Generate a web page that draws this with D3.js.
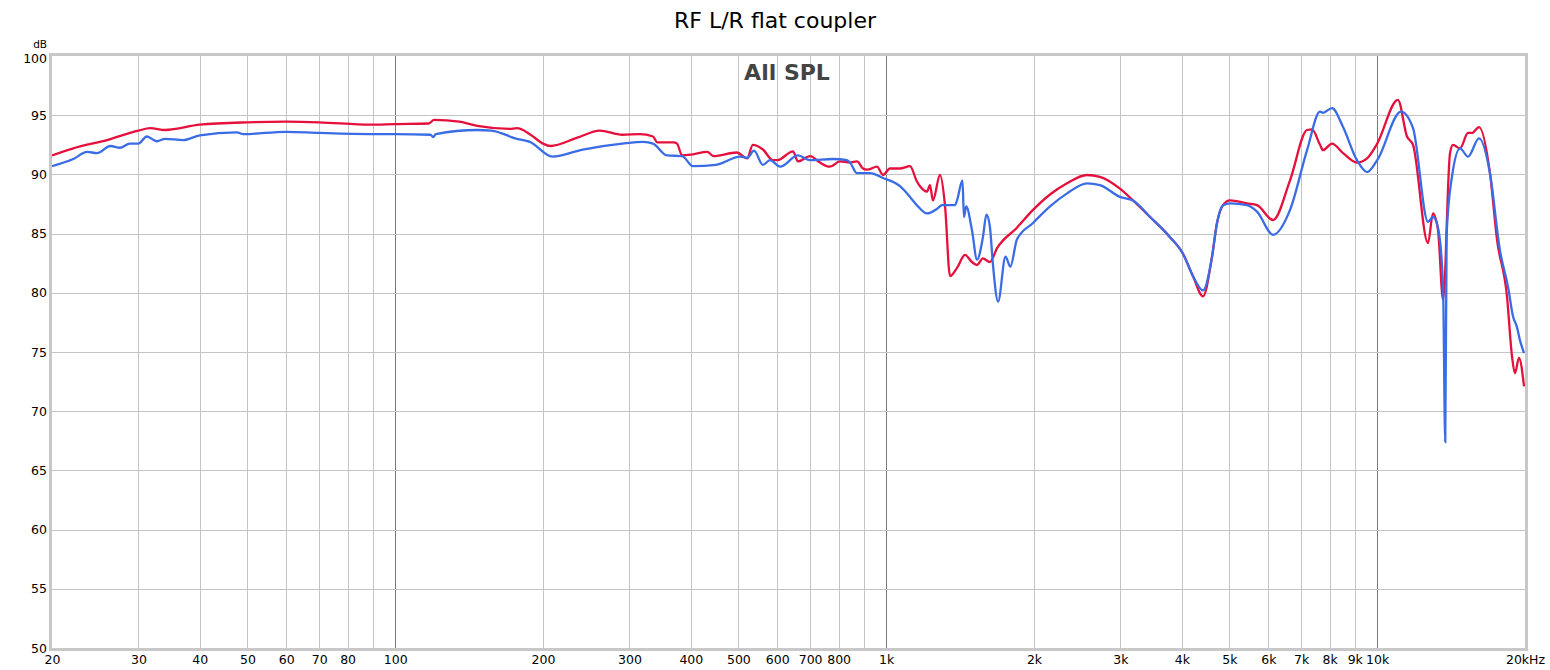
<!DOCTYPE html>
<html>
<head>
<meta charset="utf-8">
<script src="https://cdn.jsdelivr.net/npm/d3@7"></script>
<style>
  body { margin: 0; background: #fff; }
  svg { font-family: "DejaVu Sans", sans-serif; }
</style>
</head>
<body>
<script>
// tick values / labels
var xTicks = [20, 30, 40, 50, 60, 70, 80, 90, 100, 200, 300, 400, 500, 600, 700, 800, 900,
              1000, 2000, 3000, 4000, 5000, 6000, 7000, 8000, 9000, 10000, 20000];
var xLabels = ["20", "30", "40", "50", "60", "70", "80", "", "100", "200", "300", "400", "500", "600", "700", "800", "",
               "1k", "2k", "3k", "4k", "5k", "6k", "7k", "8k", "9k", "10k", "20kHz"];
var yTicks = [50, 55, 60, 65, 70, 75, 80, 85, 90, 95, 100];

// red trace
var redHz = [20, 22.1, 25.9, 30, 31.7, 34, 40, 50, 60, 70, 89, 100, 117, 120, 135, 147, 171, 177, 188, 200, 207, 235, 261,
  290, 315, 335, 342, 369, 375, 384, 404, 432, 445, 496, 521, 535, 561, 588, 600, 646, 661, 700, 733, 768, 805, 844, 872,
  897, 914, 958, 985, 1018, 1067, 1118, 1155, 1172, 1211, 1228, 1245, 1287, 1318, 1349, 1394, 1447, 1495, 1531, 1574, 1626,
  1681, 1846, 1991, 2156, 2335, 2564, 2725, 2993, 3182, 3447, 3784, 4022, 4216, 4418, 4609, 4718, 4853, 5014, 5430, 5692,
  6137, 6645, 7197, 7367, 7648, 7756, 8091, 8520, 9096, 9534, 10000, 11020, 11500, 11830, 12690, 12990, 13300, 13620,
  14070, 14270, 14750, 15310, 15600, 16120, 16970, 17540, 18380, 18820, 19080, 19440, 19910];
var redDb = [91.6, 92.2, 92.9, 93.7, 93.9, 93.75, 94.2, 94.4, 94.45, 94.4, 94.2, 94.25, 94.3, 94.6, 94.45, 94.1, 93.85, 93.9, 93.4, 92.6, 92.4, 93.1, 93.7,
  93.35, 93.4, 93.2, 92.7, 92.7, 92.6, 91.6, 91.7, 91.9, 91.55, 91.85, 91.35, 92.5, 92.1, 91.2, 91.2, 91.95, 91.1, 91.55, 91.0, 90.65, 91.1, 91.0, 91.1,
  90.5, 90.4, 90.65, 89.95, 90.5, 90.5, 90.7, 89.4, 89.0, 88.55, 89.1, 87.8, 89.95, 87.3, 81.4, 82.1, 83.2, 82.6, 82.35, 82.9, 82.6,
  83.75, 85.5, 87.0, 88.3, 89.25, 89.95, 89.8, 88.8, 87.8, 86.4, 84.7, 83.3, 81.4, 79.7, 83.05, 85.9, 87.4, 87.8, 87.55, 87.4,
  86.15, 89.5, 93.75, 93.8, 92.5, 92.05, 92.6, 91.8, 91.0, 91.35, 92.6, 96.3, 93.2, 92.5, 84.2, 86.7, 85.3, 79.4,
  91.8, 92.5, 92.2, 93.5, 93.5, 94.0, 90.1, 84.5, 79.7, 74.6, 73.2, 74.5, 72.1];

// blue trace
var blueHz = [20, 22.1, 23.6, 24.7, 26.3, 27.5, 28.8, 30, 31.2, 32.7, 34, 37, 40, 47.6, 49, 60, 70, 89, 100, 118, 119.5, 121,
  147, 157, 177, 188, 209, 241, 290, 320, 335, 358, 384, 404, 450, 504, 521, 538, 561, 580, 608, 661, 700, 779, 832, 844,
  872, 927, 985, 1067, 1118, 1155, 1211, 1270, 1300, 1380, 1394, 1430, 1440, 1455, 1495, 1531, 1574, 1600, 1626, 1650, 1690,
  1750, 1790, 1846, 1991, 2156, 2335, 2564, 2725, 2993, 3182, 3447, 3784, 4022, 4216, 4418, 4609, 4718, 4853, 5014, 5430,
  5692, 6137, 6645, 7197, 7648, 7756, 8091, 8520, 9096, 9534, 10000, 11180, 11830, 12690, 12990, 13300, 13620, 13760, 13850,
  14200, 14750, 15310, 16120, 16970, 17780, 18470, 18910, 19260, 19530, 19910];
var blueDb = [90.7, 91.3, 91.9, 91.8, 92.4, 92.25, 92.6, 92.6, 93.2, 92.8, 93.0, 92.9, 93.3, 93.55, 93.4, 93.6, 93.5, 93.4, 93.4, 93.35, 93.15, 93.4,
  93.75, 93.7, 93.0, 92.75, 91.5, 92.1, 92.6, 92.75, 92.6, 91.6, 91.55, 90.7, 90.8, 91.5, 91.4, 92.0, 90.8, 91.2, 90.65, 91.6, 91.2, 91.3, 91.2, 91.0,
  90.1, 90.1, 89.7, 89.0, 88.1, 87.4, 86.7, 87.1, 87.4, 87.4, 87.8, 89.5, 86.4, 87.3, 85.3, 82.8, 84.7, 86.6, 85.6, 82.35, 79.25,
  83.05, 82.2, 84.5, 85.9, 87.3, 88.4, 89.25, 89.1, 88.1, 87.8, 86.4, 84.7, 83.3, 81.4, 80.2, 83.05, 85.9, 87.4, 87.55, 87.4,
  86.85, 84.9, 87.0, 92.05, 95.3, 95.2, 95.6, 94.0, 91.2, 90.2, 91.2, 95.3, 93.9, 86.0, 86.4, 85.5, 80.5, 67.4, 85.0,
  89.8, 92.2, 91.5, 93.05, 90.1, 83.6, 80.5, 78.0, 77.1, 76.0, 74.9];

var width = 1550, height = 670;
var plotLeft = 52, plotRight = 1525, plotTop = 56, plotBottom = 648;

var svg = d3.select("body").append("svg")
    .attr("width", width)
    .attr("height", height);

var x = d3.scaleLog().domain([20, 20000]).range([plotLeft, plotRight]);
var y = d3.scaleLinear().domain([50, 100]).range([plotBottom, plotTop]);

// grid
var decades = [100, 1000, 10000];
svg.append("g").selectAll("line")
    .data(xTicks.filter(function(d) { return d > 20 && d < 20000; }))
  .enter().append("line")
    .attr("x1", function(d) { return Math.round(x(d)) + 0.5; })
    .attr("x2", function(d) { return Math.round(x(d)) + 0.5; })
    .attr("y1", plotTop)
    .attr("y2", plotBottom)
    .attr("stroke", function(d) { return decades.indexOf(d) >= 0 ? "#7a7a7a" : "#c4c4c4"; })
    .attr("stroke-width", 1);

svg.append("g").selectAll("line")
    .data(yTicks.filter(function(d) { return d > 50 && d < 100; }))
  .enter().append("line")
    .attr("x1", plotLeft)
    .attr("x2", plotRight)
    .attr("y1", function(d) { return Math.round(y(d)) + 0.5; })
    .attr("y2", function(d) { return Math.round(y(d)) + 0.5; })
    .attr("stroke", "#c4c4c4")
    .attr("stroke-width", 1);

// axes
var xAxis = svg.append("g")
    .attr("transform", "translate(0," + (plotBottom + 4) + ")")
    .call(d3.axisBottom(x).tickValues(xTicks).tickSize(0)
      .tickFormat(function(d, i) { return xLabels[i]; }));
xAxis.select(".domain").remove();
xAxis.selectAll("text")
    .attr("font-family", "DejaVu Sans, sans-serif")
    .attr("font-size", 12.5)
    .attr("fill", "#000");

var yAxis = svg.append("g")
    .attr("transform", "translate(" + (plotLeft - 5) + ",0)")
    .call(d3.axisLeft(y).tickValues(yTicks).tickSize(0));
yAxis.select(".domain").remove();
yAxis.selectAll("text")
    .attr("font-family", "DejaVu Sans, sans-serif")
    .attr("font-size", 12.5)
    .attr("fill", "#000")
    .attr("x", 0);
// nudge the top label down a little so "dB" sits clear above it
yAxis.selectAll(".tick").filter(function(d) { return d === 100; })
  .select("text").attr("dy", "0.5em");

svg.append("text")
    .attr("x", 47)
    .attr("y", 48)
    .attr("text-anchor", "end")
    .attr("font-size", 10.5)
    .attr("fill", "#000")
    .text("dB");

// titles
svg.append("text")
    .attr("x", 775)
    .attr("y", 28)
    .attr("text-anchor", "middle")
    .attr("font-size", 22)
    .attr("fill", "#000")
    .text("RF L/R flat coupler");

svg.append("text")
    .attr("x", 787)
    .attr("y", 80)
    .attr("text-anchor", "middle")
    .attr("font-size", 22)
    .attr("font-weight", "bold")
    .attr("fill", "#444")
    .text("All SPL");

// traces
svg.append("clipPath").attr("id", "plot")
  .append("rect")
    .attr("x", plotLeft).attr("y", plotTop)
    .attr("width", plotRight - plotLeft).attr("height", plotBottom - plotTop);

var line = d3.line()
    .x(function(d) { return x(d[0]); })
    .y(function(d) { return y(d[1]); })
    .curve(d3.curveMonotoneX);

svg.append("path")
    .datum(d3.zip(redHz, redDb))
    .attr("clip-path", "url(#plot)")
    .attr("fill", "none")
    .attr("stroke", "#e5103c")
    .attr("stroke-width", 2.3)
    .attr("d", line);

svg.append("path")
    .datum(d3.zip(blueHz, blueDb))
    .attr("clip-path", "url(#plot)")
    .attr("fill", "none")
    .attr("stroke", "#3a6ce6")
    .attr("stroke-width", 2.3)
    .attr("d", line);

// frame
svg.append("rect")
    .attr("x", plotLeft - 1.5)
    .attr("y", plotTop - 1.5)
    .attr("width", plotRight - plotLeft + 3)
    .attr("height", plotBottom - plotTop + 3)
    .attr("fill", "none")
    .attr("stroke", "#c8c8c8")
    .attr("stroke-width", 3);
</script>
</body>
</html>
